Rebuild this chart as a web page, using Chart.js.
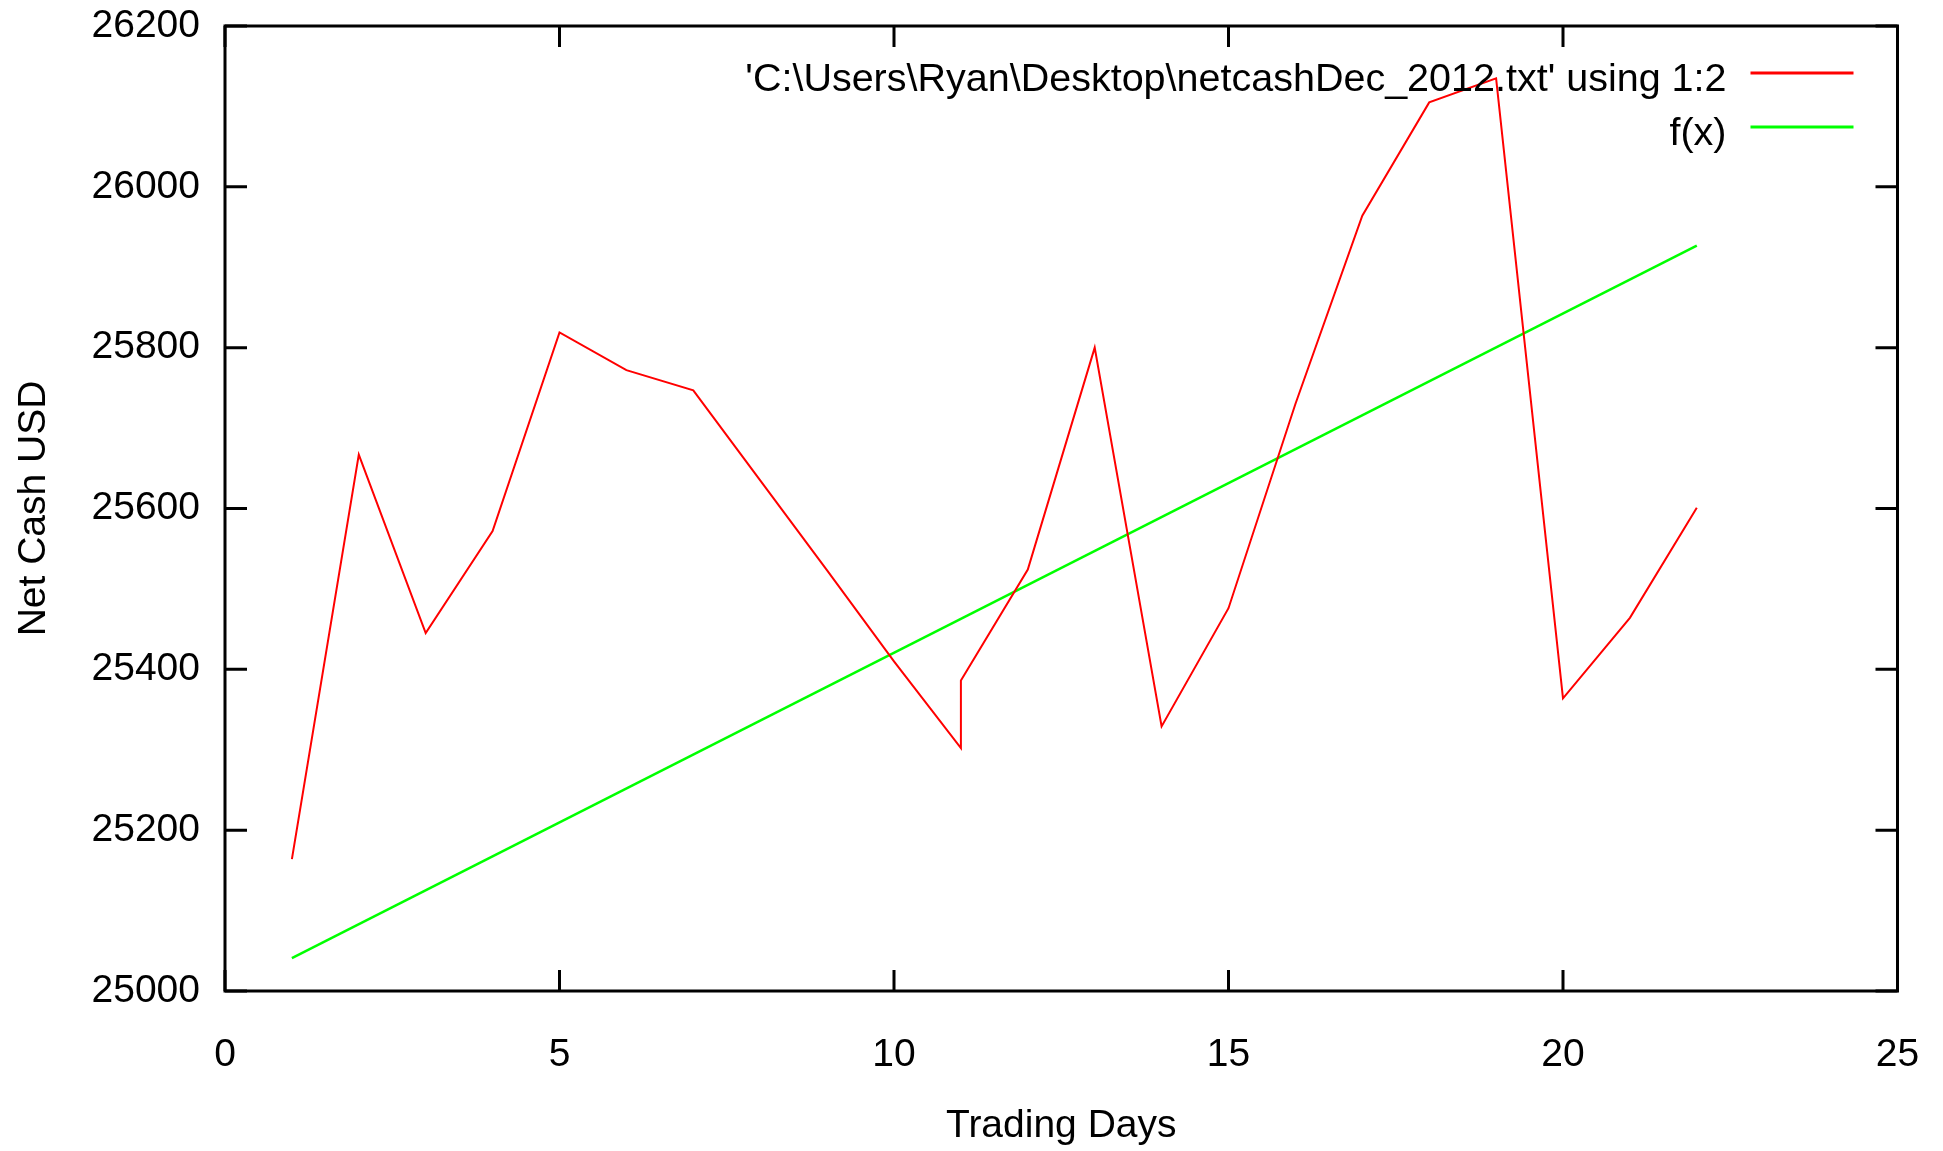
<!DOCTYPE html>
<html><head><meta charset="utf-8">
<script src="https://cdn.jsdelivr.net/npm/chart.js@4.4.1/dist/chart.umd.min.js"></script>
<style>html,body{margin:0;padding:0;background:#fff;overflow:hidden}#wrap{width:1943px;height:1151px;position:relative}canvas{display:block}</style>
</head><body><div id="wrap"><canvas id="c" width="1943" height="1151" style="width:1943px;height:1151px"></canvas></div>
<script>
const tradingDays = [1, 2, 3, 4, 5, 6, 7, 8, 9, 10, 11, 11, 12, 13, 14, 15, 16, 17, 18, 19, 20, 21, 22];
const netCashUSD = [25164, 25667, 25445, 25572, 25819, 25772, 25747, 25635, 25523, 25410, 25302, 25386, 25524, 25800, 25329, 25476, 25730, 25964, 26105, 26135, 25364, 25464, 25601];
const fitDays = [1, 22];
const fitValues = [25041, 25927];
const xTickValues = [0, 5, 10, 15, 20, 25];
const yTickValues = [25000, 25200, 25400, 25600, 25800, 26000, 26200];
const seriesLabels = ["'C:\\Users\\Ryan\\Desktop\\netcashDec_2012.txt' using 1:2", "f(x)"];
const axisTitles = { x: 'Trading Days', y: 'Net Cash USD' };

const FONT = "'Liberation Sans', Arial, sans-serif";
const FS = 39;

const frame = {
  id: 'frame',
  afterDatasetsDraw(chart) {
    const { ctx, chartArea: a, scales: { x, y } } = chart;
    ctx.save();
    ctx.strokeStyle = '#000';
    ctx.lineWidth = 3;
    ctx.lineCap = 'butt';
    ctx.beginPath();
    xTickValues.forEach(v => {
      const px = x.getPixelForValue(v);
      ctx.moveTo(px, a.bottom); ctx.lineTo(px, a.bottom - 21);
      ctx.moveTo(px, a.top); ctx.lineTo(px, a.top + 21);
    });
    yTickValues.forEach(v => {
      const py = y.getPixelForValue(v);
      ctx.moveTo(a.left, py); ctx.lineTo(a.left + 22, py);
      ctx.moveTo(a.right, py); ctx.lineTo(a.right - 22, py);
    });
    ctx.stroke();
    ctx.strokeRect(a.left, a.top, a.right - a.left, a.bottom - a.top);

    // key (gnuplot style: text right-aligned, sample line on the right)
    ctx.font = '39.5px ' + FONT;
    ctx.textAlign = 'right';
    ctx.textBaseline = 'alphabetic';
    chart.data.datasets.forEach((ds, i) => {
      const rowY = a.top + 47 + i * 54;
      const lineEnd = a.right - 44;
      const lineStart = lineEnd - 103;
      ctx.fillStyle = '#000';
      ctx.fillText(ds.label, lineStart - 24, rowY + 18);
      ctx.strokeStyle = ds.borderColor;
      ctx.lineWidth = 3;
      ctx.beginPath();
      ctx.moveTo(lineStart, rowY); ctx.lineTo(lineEnd, rowY);
      ctx.stroke();
    });
    ctx.restore();
  }
};

new Chart(document.getElementById('c'), {
  type: 'line',
  data: {
    datasets: [
      {
        label: seriesLabels[0],
        data: tradingDays.map((d, i) => ({ x: d, y: netCashUSD[i] })),
        borderColor: '#ff0000',
        borderWidth: 2,
        pointRadius: 0,
        tension: 0,
        fill: false
      },
      {
        label: seriesLabels[1],
        data: fitDays.map((d, i) => ({ x: d, y: fitValues[i] })),
        borderColor: '#00ff00',
        borderWidth: 2.5,
        pointRadius: 0,
        tension: 0,
        fill: false
      }
    ]
  },
  options: {
    responsive: false,
    animation: false,
    devicePixelRatio: 1,
    layout: { padding: { left: 0, top: 26, right: 45.5, bottom: 0 } },
    plugins: { legend: { display: false }, tooltip: { enabled: false } },
    scales: {
      x: {
        type: 'linear',
        min: 0, max: 25,
        grid: { display: false },
        border: { display: false },
        afterBuildTicks: s => { s.ticks = xTickValues.map(v => ({ value: v })); },
        afterFit: s => { s.height = 160; s.paddingLeft = 0; s.paddingRight = 0; },
        ticks: {
          color: '#000', padding: 33, maxRotation: 0, autoSkip: false,
          font: { family: FONT, size: FS },
          callback: v => String(v)
        },
        title: {
          display: true, text: axisTitles.x, color: '#000',
          font: { family: FONT, size: FS },
          padding: { top: 0, bottom: 1 }
        }
      },
      y: {
        type: 'linear',
        min: 25000, max: 26200,
        grid: { display: false },
        border: { display: false },
        afterBuildTicks: s => { s.ticks = yTickValues.map(v => ({ value: v })); },
        afterFit: s => { s.width = 225; s.paddingTop = 0; s.paddingBottom = 0; },
        ticks: {
          color: '#000', padding: 17, autoSkip: false,
          font: { family: FONT, size: FS },
          callback: v => String(v)
        },
        title: {
          display: true, text: axisTitles.y, color: '#000',
          font: { family: FONT, size: FS },
          padding: { top: 11, bottom: 0 }
        }
      }
    }
  },
  plugins: [frame]
});
</script>
</body></html>
